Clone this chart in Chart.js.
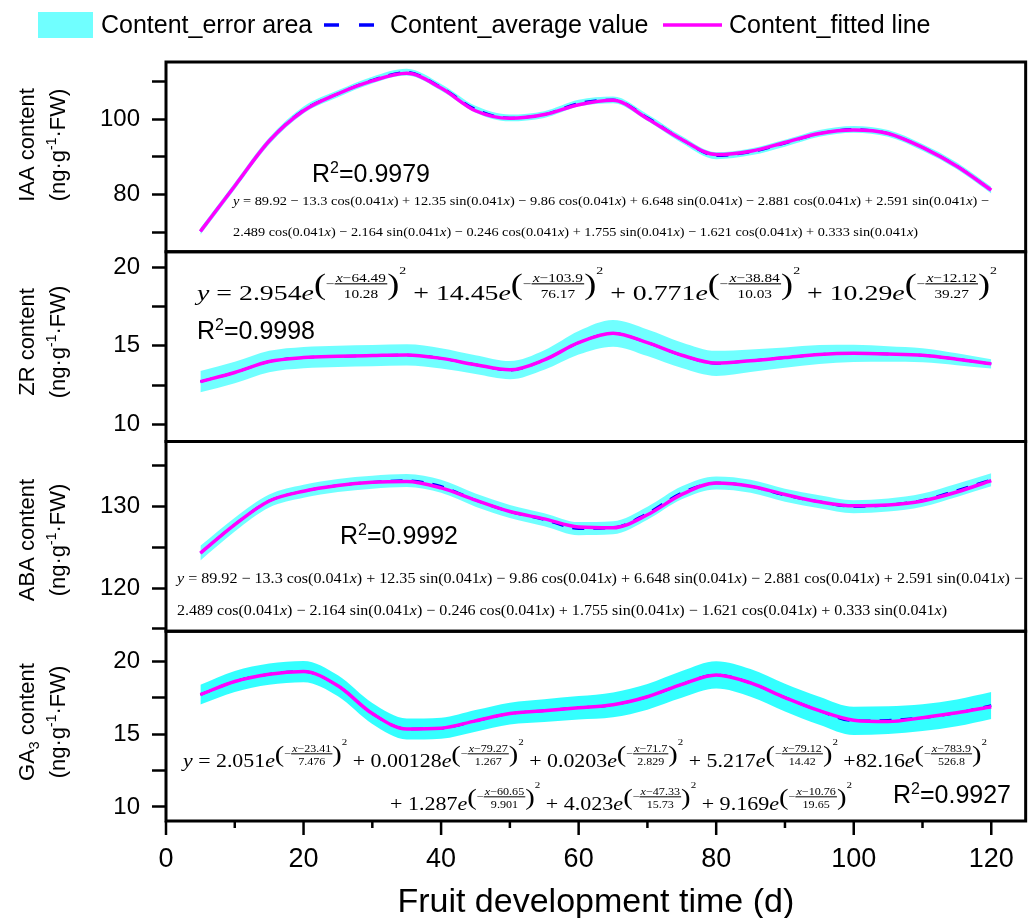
<!DOCTYPE html>
<html>
<head>
<meta charset="utf-8">
<script src="https://cdn.jsdelivr.net/npm/chart.js@4.4.1/dist/chart.umd.min.js"></script>
<style>
  html, body { margin: 0; padding: 0; background: #fff; }
  canvas { display: block; }
</style>
</head>
<body>
<canvas id="chart" width="1036" height="918"></canvas>
<script>
// sampling days (x)
const days = [5, 10, 15, 20, 25, 30, 35, 40, 45, 50, 55, 60, 65, 70, 75, 80, 85, 90, 95, 100, 105, 110, 115, 120];

// IAA
const iaaFit = [70.3, 82.3, 94.2, 102.2, 106.7, 110.1, 112.1, 108.2, 102.2, 100.2, 101.2, 103.8, 105.0, 100.1, 94.6, 90.6, 91.5, 93.8, 96.2, 97.1, 96.2, 92.5, 87.5, 81.2];
const iaaAvg = [70.3, 82.3, 94.2, 102.4, 106.7, 110.3, 112.4, 108.4, 102.6, 100.3, 101.2, 104.2, 105.1, 100.4, 94.6, 90.3, 91.3, 93.6, 96.2, 97.3, 96.2, 92.5, 87.6, 81.2];
const iaaErr = [0.9, 0.9, 0.9, 0.9, 0.9, 0.9, 0.9, 0.9, 0.9, 0.9, 0.9, 0.9, 0.9, 0.9, 0.9, 0.9, 0.9, 0.9, 0.9, 0.9, 0.9, 0.9, 0.9, 0.9];

// ZR
const zrFit = [12.72, 13.3, 14.0, 14.25, 14.33, 14.38, 14.42, 14.2, 13.8, 13.47, 14.1, 15.2, 15.8, 15.2, 14.4, 13.9, 14.05, 14.25, 14.45, 14.52, 14.48, 14.4, 14.15, 13.85];
const zrAvg = [12.72, 13.3, 14.0, 14.25, 14.33, 14.38, 14.42, 14.2, 13.8, 13.45, 14.1, 15.2, 15.8, 15.2, 14.4, 13.88, 14.05, 14.25, 14.45, 14.52, 14.48, 14.4, 14.15, 13.85];
const zrErr = [0.68, 0.68, 0.68, 0.68, 0.68, 0.68, 0.68, 0.65, 0.6, 0.58, 0.62, 0.75, 0.85, 0.85, 0.82, 0.8, 0.72, 0.65, 0.6, 0.55, 0.5, 0.45, 0.38, 0.3];

// ABA
const abaFit = [124.3, 127.8, 130.7, 131.9, 132.6, 133.0, 133.1, 132.3, 130.8, 129.4, 128.5, 127.5, 127.4, 129.0, 131.5, 132.9, 132.5, 131.5, 130.6, 130.1, 130.2, 130.7, 131.8, 133.2];
const abaAvg = [124.3, 127.8, 130.7, 131.9, 132.6, 133.0, 133.2, 132.5, 130.8, 129.4, 128.4, 127.3, 127.4, 129.2, 131.7, 132.9, 132.5, 131.4, 130.6, 130.0, 130.2, 130.8, 132.0, 133.3];
const abaErr = [0.9, 0.85, 0.8, 0.8, 0.8, 0.8, 0.8, 0.8, 0.8, 0.8, 0.8, 0.8, 0.8, 0.8, 0.8, 0.8, 0.8, 0.8, 0.8, 0.8, 0.8, 0.8, 0.8, 0.8];

// GA3
const gaFit = [17.7, 18.6, 19.1, 19.28, 18.3, 16.4, 15.35, 15.4, 15.9, 16.4, 16.6, 16.8, 17.0, 17.55, 18.4, 19.05, 18.5, 17.5, 16.6, 15.95, 15.85, 16.12, 16.45, 16.87];
const gaAvg = [17.7, 18.6, 19.1, 19.28, 18.3, 16.4, 15.35, 15.4, 15.9, 16.4, 16.6, 16.8, 17.0, 17.55, 18.4, 19.05, 18.5, 17.5, 16.6, 15.9, 15.95, 16.12, 16.45, 16.95];
const gaErr = [0.68, 0.72, 0.73, 0.73, 0.72, 0.72, 0.72, 0.72, 0.74, 0.75, 0.78, 0.8, 0.85, 0.88, 0.92, 0.94, 0.95, 0.95, 0.96, 0.97, 0.95, 0.92, 0.92, 0.92];

// axis ranges / tick labels
const xLabels = [0, 20, 40, 60, 80, 100, 120];
const iaaLabels = [80, 100];
const zrLabels = [10, 15, 20];
const abaLabels = [120, 130];
const gaLabels = [10, 15, 20];

const legendLabels = ['Content_error area', 'Content_average value', 'Content_fitted line'];
const xTitle = 'Fruit development time (d)';

// fitted equations
const trigLine1 = 'y = 89.92 − 13.3 cos(0.041x) + 12.35 sin(0.041x) − 9.86 cos(0.041x) + 6.648 sin(0.041x) − 2.881 cos(0.041x) + 2.591 sin(0.041x) −';
const trigLine2 = '2.489 cos(0.041x) − 2.164 sin(0.041x) − 0.246 cos(0.041x) + 1.755 sin(0.041x) − 1.621 cos(0.041x) + 0.333 sin(0.041x)';
const zrTerms = [['y = 2.954', '64.49', '10.28'], [' + 14.45', '103.9', '76.17'], [' + 0.771', '38.84', '10.03'], [' + 10.29', '12.12', '39.27']];
const gaTerms1 = [['y = 2.051', '23.41', '7.476'], [' + 0.00128', '79.27', '1.267'], [' + 0.0203', '71.7', '2.829'], [' + 5.217', '79.12', '14.42'], [' +82.16', '783.9', '526.8']];
const gaTerms2 = [['+ 1.287', '60.65', '9.901'], [' + 4.023', '47.33', '15.73'], [' + 9.169', '10.76', '19.65']];

const SANS = "'Liberation Sans', Arial, sans-serif";
const SERIF = "'Liberation Serif', 'Times New Roman', serif";
const BAND = 'rgba(0,255,255,0.56)';
const BAND_GA = 'rgba(0,255,255,0.8)';

Chart.defaults.font.family = SANS;
Chart.defaults.color = '#000';

function pts(ys) { return days.map((d, i) => ({ x: d, y: ys[i] })); }

function panelSets(axis, fit, avg, err, band) {
  const base = { yAxisID: axis, pointRadius: 0, cubicInterpolationMode: 'monotone' };
  return [
    { ...base, data: pts(fit), borderColor: '#ff00ff', borderWidth: 3.5, order: 0 },
    { ...base, data: pts(avg), borderColor: '#0000ff', borderWidth: 2.5, borderDash: [12, 9], order: 1 },
    { ...base, data: pts(avg.map((v, i) => v - err[i])), borderColor: 'transparent', borderWidth: 0, fill: false, order: 2 },
    { ...base, data: pts(avg.map((v, i) => v + err[i])), borderColor: 'transparent', borderWidth: 0, fill: '-1', backgroundColor: band, order: 2 }
  ];
}

function yAxis(weight, min, max, step, labels) {
  return {
    type: 'linear', position: 'left', stack: 'panels', stackWeight: 1, weight: weight,
    min: min, max: max,
    border: { display: false },
    grid: { drawOnChartArea: false, drawTicks: true, tickLength: 14, tickWidth: 2.5, tickColor: '#000' },
    ticks: {
      stepSize: step, includeBounds: false, autoSkip: false, padding: 12,
      font: { size: 24 },
      callback: v => labels.includes(v) ? String(v) : ''
    },
    afterFit: s => { s.width = 166; }
  };
}

// --- text helpers ---
function mathRuns(str) {
  const runs = [];
  for (const ch of str) {
    const it = ch === 'x' || ch === 'y';
    const last = runs[runs.length - 1];
    if (last && last.it === it) last.t += ch; else runs.push({ t: ch, it: it });
  }
  return runs;
}
function serif(sz, it) { return (it ? 'italic ' : '') + sz + 'px ' + SERIF; }
function runsWidth(ctx, str, sz) {
  let w = 0;
  mathRuns(str).forEach(r => { ctx.font = serif(sz, r.it); w += ctx.measureText(r.t).width; });
  return w;
}
function drawRuns(ctx, str, x, y, sz) {
  mathRuns(str).forEach(r => { ctx.font = serif(sz, r.it); ctx.fillText(r.t, x, y); x += ctx.measureText(r.t).width; });
  return x;
}
// draw at a fixed glyph height, stretched horizontally to span x0..x1
function drawStretched(ctx, x0, x1, measure, paint) {
  const w = measure();
  ctx.save();
  ctx.translate(x0, 0);
  ctx.scale((x1 - x0) / w, 1);
  paint();
  ctx.restore();
}
function drawTrig(ctx, str, x0, x1, y, sz) {
  drawStretched(ctx, x0, x1, () => runsWidth(ctx, str, sz), () => drawRuns(ctx, str, 0, y, sz));
}

function gaussLayout(ctx, terms, S, x0, B, draw) {
  let x = x0;
  const put = (txt, sz, it, y) => {
    ctx.font = serif(sz, it);
    if (draw) ctx.fillText(txt, x, y);
    x += ctx.measureText(txt).width;
  };
  for (const [lead, mu, sig] of terms) {
    mathRuns(lead).forEach(r => put(r.t, S, r.it, B));
    put('e', S, true, B);
    put('(', 1.3 * S, false, B - 0.27 * S);
    const bar = B - 0.73 * S;
    put('−', 0.55 * S, false, bar + 0.17 * S);
    const fs = 0.55 * S;
    const num = 'x−' + mu;
    const nw = runsWidth(ctx, num, fs), dw = runsWidth(ctx, sig, fs);
    const fw = Math.max(nw, dw) + 0.1 * S;
    if (draw) {
      drawRuns(ctx, num, x + (fw - nw) / 2, bar - 0.1 * S, fs);
      drawRuns(ctx, sig, x + (fw - dw) / 2, bar + 0.62 * S, fs);
      ctx.fillRect(x, bar - 0.03 * S, fw, Math.max(1, 0.05 * S));
    }
    x += fw;
    put(')', 1.3 * S, false, B - 0.27 * S);
    put('2', 0.5 * S, false, B - 1.2 * S);
  }
  return x - x0;
}
function drawGauss(ctx, terms, x0, x1, B, S) {
  drawStretched(ctx, x0, x1, () => gaussLayout(ctx, terms, S, 0, B, false), () => gaussLayout(ctx, terms, S, 0, B, true));
}

function drawR2(ctx, x, y, val) {
  ctx.font = '25px ' + SANS; ctx.fillText('R', x, y); x += ctx.measureText('R').width;
  ctx.font = '16px ' + SANS; ctx.fillText('2', x, y - 9); x += ctx.measureText('2').width;
  ctx.font = '25px ' + SANS; ctx.fillText('=' + val, x, y);
}

function drawYTitle(ctx, cy, name, sub) {
  ctx.save();
  ctx.translate(34, cy);
  ctx.rotate(-Math.PI / 2);
  const big = '22px ' + SANS, small = '14px ' + SANS;
  // line 1
  ctx.font = big;
  let w1 = ctx.measureText(name).width + ctx.measureText(' content').width;
  if (sub) { ctx.font = small; w1 += ctx.measureText(sub).width; }
  let x = -w1 / 2;
  ctx.font = big; ctx.fillText(name, x, 0); x += ctx.measureText(name).width;
  if (sub) { ctx.font = small; ctx.fillText(sub, x, 5); x += ctx.measureText(sub).width; }
  ctx.font = big; ctx.fillText(' content', x, 0);
  // line 2
  const a = '(ng·g', b = '-1', c = '·FW)';
  ctx.font = big; const wa = ctx.measureText(a).width, wc = ctx.measureText(c).width;
  ctx.font = small; const wb = ctx.measureText(b).width;
  x = -(wa + wb + wc) / 2;
  ctx.font = big; ctx.fillText(a, x, 31); x += wa;
  ctx.font = small; ctx.fillText(b, x, 22); x += wb;
  ctx.font = big; ctx.fillText(c, x, 31);
  ctx.restore();
}

const decor = {
  id: 'decor',
  afterDraw(chart) {
    const ctx = chart.ctx, a = chart.chartArea, sx = chart.scales.x;
    ctx.save();
    ctx.fillStyle = '#000';
    ctx.strokeStyle = '#000';
    ctx.textBaseline = 'alphabetic';
    ctx.textAlign = 'left';

    // panel frames
    ctx.lineWidth = 3;
    ['yIAA', 'yZR', 'yABA', 'yGA'].forEach(id => {
      const s = chart.scales[id];
      ctx.strokeRect(a.left, s.top, a.right - a.left, s.bottom - s.top);
    });

    // x ticks: long on labelled values, short otherwise
    ctx.lineWidth = 2.5;
    sx.ticks.forEach(t => {
      const px = sx.getPixelForValue(t.value);
      ctx.beginPath();
      ctx.moveTo(px, a.bottom);
      ctx.lineTo(px, a.bottom + (xLabels.includes(t.value) ? 14 : 7));
      ctx.stroke();
    });

    // legend
    ctx.fillStyle = BAND; ctx.fillRect(38, 12, 55, 26);
    ctx.fillStyle = '#000';
    ctx.font = '25px ' + SANS;
    ctx.fillText(legendLabels[0], 101, 33);
    ctx.strokeStyle = '#0000ff'; ctx.lineWidth = 3.5; ctx.setLineDash([15, 20]);
    ctx.beginPath(); ctx.moveTo(324, 25); ctx.lineTo(378, 25); ctx.stroke();
    ctx.setLineDash([]);
    ctx.fillText(legendLabels[1], 390, 33);
    ctx.strokeStyle = '#ff00ff';
    ctx.beginPath(); ctx.moveTo(663, 25); ctx.lineTo(722, 25); ctx.stroke();
    ctx.fillText(legendLabels[2], 729, 33);

    // y titles
    drawYTitle(ctx, 145, 'IAA', '');
    drawYTitle(ctx, 342, 'ZR', '');
    drawYTitle(ctx, 540, 'ABA', '');
    drawYTitle(ctx, 722, 'GA', '3');

    // x title
    ctx.font = '34px ' + SANS;
    ctx.textAlign = 'center';
    ctx.fillText(xTitle, (a.left + a.right) / 2, 912);
    ctx.textAlign = 'left';

    // R² and equations
    drawR2(ctx, 312, 182, '0.9979');
    drawTrig(ctx, trigLine1, 233, 989, 205, 13.5);
    drawTrig(ctx, trigLine2, 233, 918, 236, 13.5);

    drawGauss(ctx, zrTerms, 197, 997, 300, 22);
    drawR2(ctx, 197, 339, '0.9998');

    drawR2(ctx, 340, 544, '0.9992');
    drawTrig(ctx, trigLine1, 177, 1023, 583, 15);
    drawTrig(ctx, trigLine2, 177, 947, 615, 15);

    drawGauss(ctx, gaTerms1, 183, 987, 767, 18);
    drawGauss(ctx, gaTerms2, 390, 852, 810, 18);
    drawR2(ctx, 893, 803, '0.9927');

    ctx.restore();
  }
};

new Chart(document.getElementById('chart'), {
  type: 'line',
  data: {
    datasets: [
      ...panelSets('yIAA', iaaFit, iaaAvg, iaaErr, BAND),
      ...panelSets('yZR', zrFit, zrAvg, zrErr, BAND),
      ...panelSets('yABA', abaFit, abaAvg, abaErr, BAND),
      ...panelSets('yGA', gaFit, gaAvg, gaErr, BAND_GA)
    ]
  },
  options: {
    responsive: false,
    animation: false,
    devicePixelRatio: 1,
    layout: { padding: { top: 62, right: 5, left: 0, bottom: 0 } },
    plugins: { legend: { display: false }, tooltip: { enabled: false } },
    scales: {
      x: {
        type: 'linear', position: 'bottom', min: 0, max: 125,
        border: { display: false },
        grid: { display: false, drawTicks: false },
        ticks: {
          stepSize: 10, includeBounds: false, autoSkip: false, maxRotation: 0, padding: 22,
          font: { size: 27 },
          callback: v => xLabels.includes(v) ? String(v) : ''
        },
        afterFit: s => { s.height = 97; }
      },
      yIAA: yAxis(4, 64.9, 115.1, 10, iaaLabels),
      yZR: yAxis(3, 8.9, 21.0, 2.5, zrLabels),
      yABA: yAxis(2, 114.7, 138.0, 5, abaLabels),
      yGA: yAxis(1, 9.04, 22.04, 2.5, gaLabels)
    }
  },
  plugins: [decor]
});
</script>
</body>
</html>
